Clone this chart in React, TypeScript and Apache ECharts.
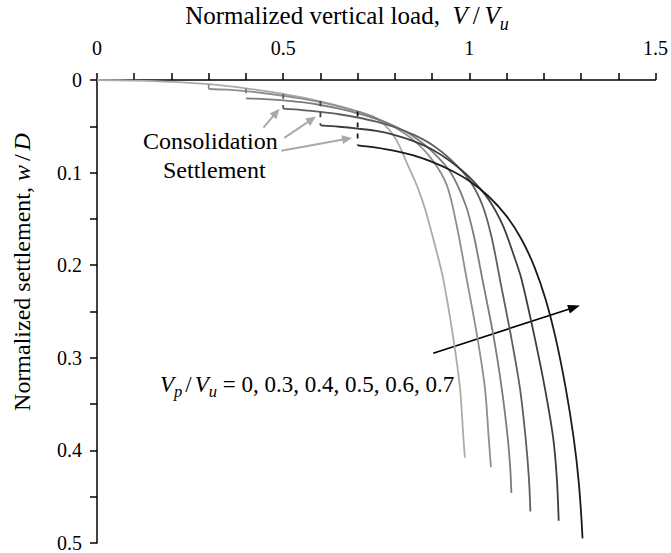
import { useEffect, useRef } from 'react';
import * as echarts from 'echarts';

// Each curve is a list of [V/Vu, w/D] points.
const preloadRatios = [0, 0.3, 0.4, 0.5, 0.6, 0.7];

const curveVirgin: [number, number][] = [
  [0, 0], [0.1, 0.0006], [0.2, 0.002], [0.3, 0.0045], [0.4, 0.009], [0.5, 0.015],
  [0.6, 0.023], [0.7, 0.034], [0.755, 0.043], [0.8, 0.062], [0.836, 0.093],
  [0.86, 0.115], [0.881, 0.139], [0.908, 0.179], [0.93, 0.215], [0.957, 0.279],
  [0.975, 0.333], [0.984, 0.386], [0.988, 0.408],
];

const curveVp03: [number, number][] = [
  [0.3, 0.0097], [0.35, 0.0105], [0.4, 0.012], [0.45, 0.0143], [0.5, 0.017],
  [0.55, 0.0202], [0.6, 0.024], [0.65, 0.0285], [0.7, 0.034], [0.75, 0.041],
  [0.8, 0.051], [0.85, 0.065], [0.9, 0.086], [0.94, 0.114], [0.965, 0.155],
  [0.993, 0.215], [1.022, 0.279], [1.042, 0.333], [1.052, 0.386], [1.058, 0.418],
];

const curveVp04: [number, number][] = [
  [0.4, 0.0198], [0.45, 0.0206], [0.5, 0.022], [0.55, 0.024], [0.6, 0.027],
  [0.65, 0.031], [0.7, 0.036], [0.75, 0.042], [0.8, 0.05], [0.85, 0.061],
  [0.9, 0.077], [0.95, 0.1], [0.99, 0.135], [1.012, 0.168], [1.035, 0.215],
  [1.066, 0.279], [1.087, 0.333], [1.103, 0.386], [1.11, 0.42], [1.113, 0.446],
];

const curveVp05: [number, number][] = [
  [0.5, 0.031], [0.55, 0.0325], [0.6, 0.0345], [0.65, 0.037], [0.7, 0.0405],
  [0.75, 0.045], [0.8, 0.051], [0.85, 0.059], [0.9, 0.07], [0.95, 0.086],
  [1.0, 0.108], [1.035, 0.135], [1.06, 0.17], [1.082, 0.215], [1.113, 0.279],
  [1.136, 0.333], [1.151, 0.386], [1.16, 0.43], [1.164, 0.466],
];

const curveVp06: [number, number][] = [
  [0.6, 0.049], [0.65, 0.0505], [0.7, 0.0525], [0.75, 0.055], [0.8, 0.0595],
  [0.85, 0.066], [0.9, 0.075], [0.95, 0.088], [1.0, 0.105], [1.05, 0.128],
  [1.09, 0.157], [1.12, 0.19], [1.14, 0.215], [1.176, 0.279], [1.203, 0.333],
  [1.225, 0.386], [1.235, 0.43], [1.24, 0.476],
];

const curveVp07: [number, number][] = [
  [0.7, 0.0705], [0.75, 0.073], [0.8, 0.0765], [0.85, 0.0815], [0.9, 0.0885],
  [0.95, 0.0975], [1.0, 0.109], [1.05, 0.125], [1.1, 0.147], [1.14, 0.172],
  [1.175, 0.202], [1.205, 0.237], [1.232, 0.279], [1.259, 0.333], [1.28, 0.386],
  [1.294, 0.435], [1.304, 0.495],
];

const curves = [curveVirgin, curveVp03, curveVp04, curveVp05, curveVp06, curveVp07];
const curveColors = ['#ababab', '#8f8f8f', '#7c7c7c', '#5f5f5f', '#3e3e3e', '#1a1a1a'];

const xTicks = { min: 0, max: 1.5, interval: 0.5 };
const yTicks = { min: 0, max: 0.5, interval: 0.1 };

// Annotation arrows, in [V/Vu, w/D]
const consolidationArrows: [number, number][][] = [
  [[0.447, 0.0515], [0.49, 0.031]],
  [[0.503, 0.0625], [0.588, 0.0395]],
  [[0.495, 0.0765], [0.685, 0.0625]],
];
const trendArrow: [number, number][] = [[0.903, 0.2951], [1.297, 0.2436]];

const serif = 'Liberation Serif';

function virginAt(v: number): number {
  const p = curveVirgin.find((d) => Math.abs(d[0] - v) < 1e-9);
  return p ? p[1] : 0;
}

function mathRich(size: number, slashPad: number) {
  return {
    n: { fontFamily: serif, fontSize: size, color: '#000', lineHeight: size * 1.4 },
    i: { fontFamily: serif, fontStyle: 'italic', fontSize: size, color: '#000', lineHeight: size * 1.4 },
    sl: { fontFamily: serif, fontSize: size, color: '#000', lineHeight: size * 1.4, padding: [0, slashPad, 0, slashPad] },
    s: {
      fontFamily: serif, fontStyle: 'italic', fontSize: size * 0.72, color: '#000',
      lineHeight: size * 0.9, verticalAlign: 'bottom',
    },
  };
}

function arrow(
  tail: number[], tip: number[], color: string, width: number, headLen: number, headHalf: number,
) {
  const dx = tip[0] - tail[0];
  const dy = tip[1] - tail[1];
  const len = Math.sqrt(dx * dx + dy * dy);
  const ux = dx / len;
  const uy = dy / len;
  const bx = tip[0] - ux * headLen;
  const by = tip[1] - uy * headLen;
  return [
    {
      type: 'line',
      shape: { x1: tail[0], y1: tail[1], x2: bx + ux, y2: by + uy },
      style: { stroke: color, lineWidth: width },
      silent: true,
    },
    {
      type: 'polygon',
      shape: {
        points: [
          [tip[0], tip[1]],
          [bx - uy * headHalf, by + ux * headHalf],
          [bx + uy * headHalf, by - ux * headHalf],
        ],
      },
      style: { fill: color },
      silent: true,
    },
  ];
}

export default function App() {
  const ref = useRef<HTMLDivElement>(null);

  useEffect(() => {
    if (!ref.current) return;
    const chart = echarts.init(ref.current, null, { renderer: 'svg' });

    const axisLineStyle = { color: '#000', width: 1.5 };

    const series: any[] = [];
    curves.forEach((data, k) => {
      series.push({
        type: 'line',
        data,
        showSymbol: false,
        smooth: 0.3,
        lineStyle: { color: curveColors[k], width: 1.8 },
        z: 2 + k,
        silent: true,
      });
      const vp = preloadRatios[k];
      if (vp > 0) {
        series.push({
          type: 'line',
          data: [[vp, virginAt(vp)], data[0]],
          showSymbol: false,
          lineStyle: { color: curveColors[k], width: 1.8, type: [5, 6] },
          z: 2 + k,
          silent: true,
        });
      }
    });

    chart.setOption({
      animation: false,
      backgroundColor: '#fff',
      grid: { left: 97, top: 80, right: 14, bottom: 7, containLabel: false },
      xAxis: {
        type: 'value',
        position: 'top',
        ...xTicks,
        axisLine: { show: true, lineStyle: axisLineStyle },
        axisTick: { show: true, length: 7, lineStyle: axisLineStyle },
        minorTick: { show: true, splitNumber: 5, length: 7, lineStyle: axisLineStyle },
        axisLabel: { fontFamily: serif, fontSize: 20, color: '#000', margin: 22 },
        splitLine: { show: false },
      },
      yAxis: {
        type: 'value',
        inverse: true,
        ...yTicks,
        axisLine: { show: true, lineStyle: axisLineStyle },
        axisTick: { show: true, length: 7, lineStyle: axisLineStyle },
        minorTick: { show: true, splitNumber: 2, length: 7, lineStyle: axisLineStyle },
        axisLabel: { fontFamily: serif, fontSize: 20, color: '#000', margin: 15 },
        splitLine: { show: false },
      },
      series,
    });

    const px = (p: number[]) => chart.convertToPixel({ gridIndex: 0 }, p) as number[];

    const elements: any[] = [];
    consolidationArrows.forEach(([a, b]) => {
      elements.push(...arrow(px(a), px(b), '#a9a9a9', 2, 10, 4.5));
    });
    elements.push(...arrow(px(trendArrow[0]), px(trendArrow[1]), '#000', 1.6, 12, 4.5));

    elements.push(
      {
        type: 'text', x: 143, y: 141,
        style: { text: 'Consolidation', fontFamily: serif, fontSize: 24, fill: '#000', align: 'left', verticalAlign: 'middle' },
        silent: true,
      },
      {
        type: 'text', x: 163, y: 170,
        style: { text: 'Settlement', fontFamily: serif, fontSize: 24, fill: '#000', align: 'left', verticalAlign: 'middle' },
        silent: true,
      },
      {
        type: 'text', x: 160, y: 384,
        style: {
          text: '{i|V}{s|p}{sl|/}{i|V}{s|u}{n| = 0, 0.3, 0.4, 0.5, 0.6, 0.7}',
          rich: mathRich(23, 3), align: 'left', verticalAlign: 'middle',
        },
        silent: true,
      },
      {
        type: 'text', x: 347, y: 15,
        style: {
          text: '{n|Normalized vertical load,  }{i|V}{sl|/}{i|V}{s|u}',
          rich: mathRich(25, 5), align: 'center', verticalAlign: 'middle',
        },
        silent: true,
      },
      {
        type: 'text', x: 22, y: 272, rotation: Math.PI / 2,
        style: {
          text: '{n|Normalized settlement, }{i|w}{sl|/}{i|D}',
          rich: mathRich(24, 4), align: 'center', verticalAlign: 'middle',
        },
        silent: true,
      },
    );

    chart.setOption({ graphic: { elements } });

    return () => chart.dispose();
  }, []);

  return (
    <div
      ref={ref}
      style={{ position: 'fixed', left: 0, top: 0, width: 671, height: 553, background: '#fff' }}
    />
  );
}
